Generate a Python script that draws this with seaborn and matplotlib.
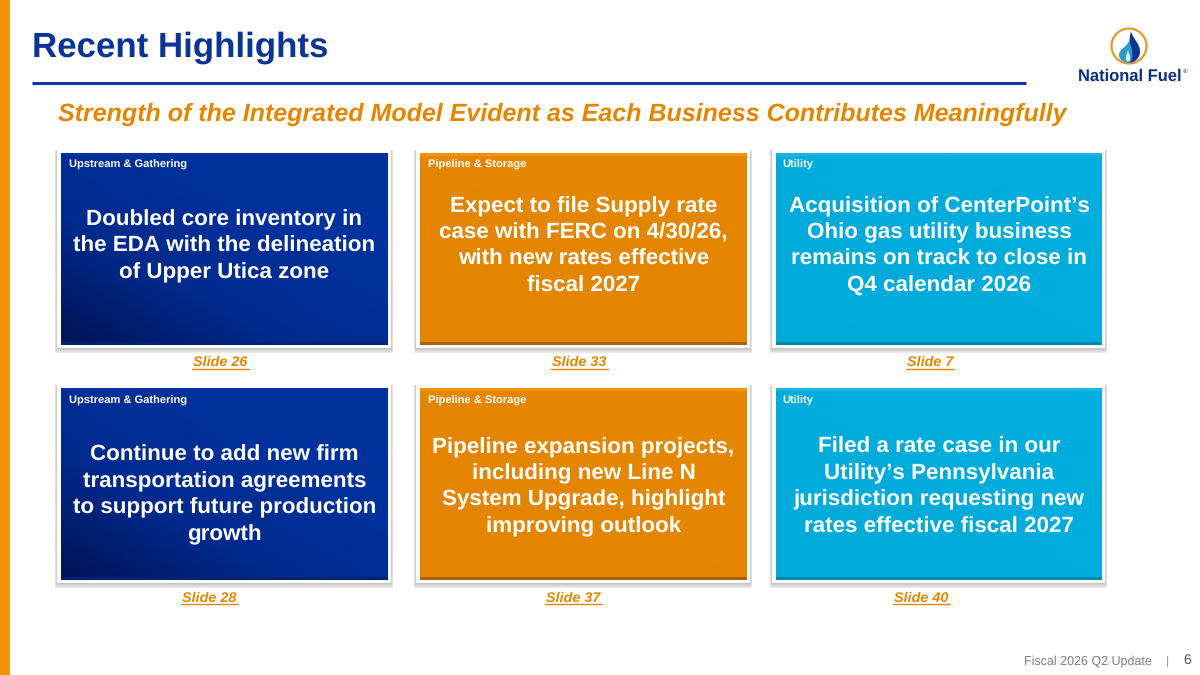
import numpy as np
import matplotlib
matplotlib.use('Agg')
import matplotlib.pyplot as plt
import seaborn as sns
from matplotlib.patches import Rectangle, Circle, PathPatch
from matplotlib.path import Path

# slide content
title = 'Recent Highlights'
subtitle = 'Strength of the Integrated Model Evident as Each Business Contributes Meaningfully'
footer = 'Fiscal 2026 Q2 Update'
page = '6'
segments = ['Upstream & Gathering', 'Pipeline & Storage', 'Utility']
body_top = ['Doubled core inventory in\nthe EDA with the delineation\nof Upper Utica zone',
            'Expect to file Supply rate\ncase with FERC on 4/30/26,\nwith new rates effective\nfiscal 2027',
            'Acquisition of CenterPoint\u2019s\nOhio gas utility business\nremains on track to close in\nQ4 calendar 2026']
body_bottom = ['Continue to add new firm\ntransportation agreements\nto support future production\ngrowth',
               'Pipeline expansion projects,\nincluding new Line N\nSystem Upgrade, highlight\nimproving outlook',
               'Filed a rate case in our\nUtility\u2019s Pennsylvania\njurisdiction requesting new\nrates effective fiscal 2027']
slides_top = ['Slide 26', 'Slide 33', 'Slide 7']
slides_bottom = ['Slide 28', 'Slide 37', 'Slide 40']

NAVY = '#0a3596'
ORANGE = '#e58600'

sns.set_theme(style='white')
plt.rcParams['font.family'] = ['Liberation Sans', 'DejaVu Sans']
plt.rcParams['text.hinting'] = 'none'
plt.rcParams['text.kerning_factor'] = 6

fig = plt.figure(figsize=(12, 6.75), dpi=100)
ax = fig.add_axes([0, 0, 1, 1])
ax.set_xlim(0, 1200)
ax.set_ylim(675, 0)
ax.axis('off')

# card gradients, one per segment
card_maps = [sns.blend_palette(['#001456', '#002a8c', '#00319c', '#00339f'], as_cmap=True),
             sns.blend_palette(['#e38500', '#e58700'], as_cmap=True),
             sns.blend_palette(['#00aad8', '#00aede'], as_cmap=True)]
bevel_top = ['#00319c', '#f59400', '#17b6e2']
bevel_bottom = ['#00236f', '#a86200', '#0088ac']

grad = (np.add.outer(np.linspace(0, 1, 60), np.linspace(0, 1, 60)) / 2)[::-1]

def draw_card(x, y, w, h, i, seg, seg_dx, seg_dy, body, link, link_x, link_dy, body_dy):
    # soft shadow then white frame
    for k in range(6, 0, -1):
        ax.add_patch(Rectangle((x - 4 - k * 0.4, y - 3), w + 7 + k * 0.8, h + 6 + k * 0.9,
                               color='#444444', alpha=0.055, lw=0, zorder=1))
    ax.add_patch(Rectangle((x - 4, y - 4), w + 7, h + 7, color='white', lw=0, zorder=2))
    ax.imshow(grad, extent=(x, x + w, y + h, y), cmap=card_maps[i], aspect='auto', zorder=3)
    ax.add_patch(Rectangle((x, y), w, 3, color=bevel_top[i], lw=0, zorder=4))
    ax.add_patch(Rectangle((x, y + h - 3), w, 3, color=bevel_bottom[i], lw=0, zorder=4))
    ax.text(x + seg_dx, y + seg_dy, seg, color='white', fontsize=8.05, fontweight='bold',
            ha='left', va='center', zorder=5)
    ax.text(x + w / 2, y + h / 2 - 3 + body_dy, body, color='white', fontsize=16.15, fontweight='bold',
            ha='center', va='center', ma='center', linespacing=1.37, zorder=5)
    ax.text(link_x, y + h + link_dy, link, color=ORANGE, fontsize=10.4, fontweight='bold', style='italic',
            ha='center', va='center', zorder=5)
    wd = 48 if len(link) == 7 else 57
    ax.plot([link_x - wd / 2, link_x + wd / 2], [y + h + 23.5, y + h + 23.5], color=ORANGE, lw=1, zorder=5)

card_x = [61, 420, 776]
card_w = [327, 327, 326]
seg_dx = [8, 7.5, 6]
link_top = [220, 579, 930]
link_bottom = [209, 573, 921]
dy_top = [0, 0, 0]
dy_bottom = [14, 6, 6]
for i in range(3):
    draw_card(card_x[i], 153, card_w[i], 192, i, segments[i], seg_dx[i], 12, body_top[i], slides_top[i], link_top[i], 17.3, dy_top[i])
    draw_card(card_x[i], 388, card_w[i], 192, i, segments[i], seg_dx[i], 13, body_bottom[i], slides_bottom[i], link_bottom[i], 18, dy_bottom[i])

# left strip, title, rule
ax.add_patch(Rectangle((0, 0), 9.5, 675, color='#f39200', lw=0))
ax.text(32, 47.5, title, color=NAVY, fontsize=25.1, fontweight='bold', ha='left', va='center')
ax.plot([32, 1026], [83, 83], color='#0c3a9c', lw=2.2, solid_capstyle='butt')
ax.text(58, 114, subtitle, color=ORANGE, fontsize=18, fontweight='bold', style='italic', ha='left', va='center')

# logo
ax.add_patch(Circle((1129, 46), 17.5, fc='white', ec='#e8982a', lw=1.6))
curve = [Path.MOVETO] + [Path.CURVE4] * 9
flame = Path([(1131, 31), (1132, 38), (1141, 44), (1140, 53), (1139, 60), (1133, 63), (1128, 63), (1130, 56), (1128, 42), (1131, 31)], curve)
ax.add_patch(PathPatch(flame, fc='#0a3596', lw=0, zorder=3))
inner = Path([(1129, 41), (1127, 47), (1119, 49), (1119, 55), (1119, 60), (1124, 63), (1130, 63), (1134, 57), (1132, 47), (1129, 41)], curve)
ax.add_patch(PathPatch(inner, fc='#2a9ccb', lw=0, zorder=4))
sliver = Path([(1128, 50), (1127, 54), (1125, 57), (1126, 60), (1127, 62), (1129, 62), (1130, 60), (1131, 57), (1129, 54), (1128, 50)], curve)
ax.add_patch(PathPatch(sliver, fc='#d9eff7', lw=0, zorder=5))
ax.text(1078, 76.5, 'National Fuel', color='#0a2f86', fontsize=11.9, fontweight='bold', ha='left', va='center')
ax.text(1183, 71.5, '\u00ae', color='#0a2f86', fontsize=4.5, ha='left', va='center')

# footer
ax.text(1152, 662, footer, color='#808080', fontsize=9.0, ha='right', va='center')
ax.plot([1167, 1167], [656, 666], color='#9a9a9a', lw=0.8)
ax.text(1187, 660.5, page, color='#555555', fontsize=10, ha='center', va='center')

ax.set_xlim(0, 1200)
ax.set_ylim(675, 0)
fig.savefig('out.png', dpi=100, facecolor='white')
